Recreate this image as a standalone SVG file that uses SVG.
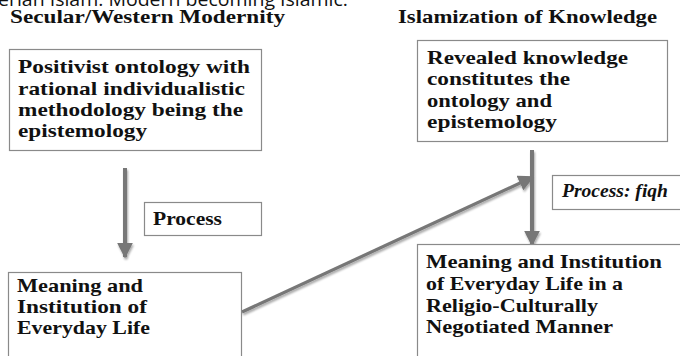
<svg xmlns="http://www.w3.org/2000/svg" width="680" height="356" viewBox="0 0 680 356">
<defs>
<style>
.t{font-family:"Liberation Serif","Times New Roman",serif;font-weight:bold;font-size:19px;fill:#111}
.box{fill:#fff;stroke:#8a8a8a;stroke-width:1.2}
.arr{stroke:#777;fill:none}
</style>
<filter id="sh" x="-50%" y="-50%" width="200%" height="200%">
<feGaussianBlur in="SourceAlpha" stdDeviation="1.2"/>
<feOffset dx="1" dy="1.5" result="b"/>
<feComponentTransfer><feFuncA type="linear" slope="0.35"/></feComponentTransfer>
<feMerge><feMergeNode/><feMergeNode in="SourceGraphic"/></feMerge>
</filter>
<marker id="ah" viewBox="0 0 10 10" refX="9" refY="5" markerWidth="16" markerHeight="16" markerUnits="userSpaceOnUse" orient="auto">
<path d="M0,0 L10,5 L0,10 z" fill="#777"/>
</marker>
</defs>
<rect width="680" height="356" fill="#fff"/>
<text x="-2" y="5.5" font-family="'Open Sans',sans-serif" font-size="19" fill="#111" textLength="350" lengthAdjust="spacingAndGlyphs">erian Islam: Modern becoming Islamic.</text>
<text class="t" x="10" y="23" textLength="275" lengthAdjust="spacingAndGlyphs">Secular/Western Modernity</text>
<text class="t" x="398" y="23" textLength="259" lengthAdjust="spacingAndGlyphs">Islamization of Knowledge</text>
<g id="connectors" filter="url(#sh)">
<line class="arr" x1="125" y1="168" x2="125" y2="257" stroke-width="4" marker-end="url(#ah)"/>
<line class="arr" x1="532" y1="150" x2="532" y2="245" stroke-width="4" marker-end="url(#ah)"/>
<line class="arr" x1="242" y1="312" x2="533" y2="177" stroke-width="3.2" marker-end="url(#ah)"/>
</g>
<g id="n1">
<rect class="box" x="9.5" y="49.5" width="252" height="101"/>
<text class="t" x="18" y="73" textLength="232" lengthAdjust="spacingAndGlyphs">Positivist ontology with</text>
<text class="t" x="18" y="95" textLength="227" lengthAdjust="spacingAndGlyphs">rational individualistic</text>
<text class="t" x="18" y="116" textLength="225" lengthAdjust="spacingAndGlyphs">methodology being the</text>
<text class="t" x="18" y="137" textLength="129" lengthAdjust="spacingAndGlyphs">epistemology</text>
</g>
<g id="n2">
<rect class="box" x="417.5" y="40.5" width="250" height="101"/>
<text class="t" x="427" y="64" textLength="201" lengthAdjust="spacingAndGlyphs">Revealed knowledge</text>
<text class="t" x="427" y="85" textLength="143" lengthAdjust="spacingAndGlyphs">constitutes the</text>
<text class="t" x="427" y="107" textLength="125" lengthAdjust="spacingAndGlyphs">ontology and</text>
<text class="t" x="427" y="128" textLength="130" lengthAdjust="spacingAndGlyphs">epistemology</text>
</g>
<g id="p1">
<rect class="box" x="144.5" y="202.5" width="117" height="33"/>
<text class="t" x="153" y="225" textLength="69" lengthAdjust="spacingAndGlyphs">Process</text>
</g>
<g id="p2">
<rect class="box" x="552.5" y="175.5" width="140" height="34"/>
<text class="t" x="562" y="197" font-style="italic" textLength="106" lengthAdjust="spacingAndGlyphs">Process: fiqh</text>
</g>
<g id="n3">
<rect class="box" x="8.5" y="272.5" width="233" height="100"/>
<text class="t" x="17" y="292" textLength="126" lengthAdjust="spacingAndGlyphs">Meaning and</text>
<text class="t" x="17" y="313" textLength="130" lengthAdjust="spacingAndGlyphs">Institution of</text>
<text class="t" x="17" y="334" textLength="133" lengthAdjust="spacingAndGlyphs">Everyday Life</text>
</g>
<g id="n4">
<rect class="box" x="417.5" y="244.5" width="280" height="130"/>
<text class="t" x="426" y="268" textLength="236" lengthAdjust="spacingAndGlyphs">Meaning and Institution</text>
<text class="t" x="426" y="290" textLength="197" lengthAdjust="spacingAndGlyphs">of Everyday Life in a</text>
<text class="t" x="426" y="312" textLength="172" lengthAdjust="spacingAndGlyphs">Religio-Culturally</text>
<text class="t" x="426" y="333" textLength="187" lengthAdjust="spacingAndGlyphs">Negotiated Manner</text>
</g>
</svg>
